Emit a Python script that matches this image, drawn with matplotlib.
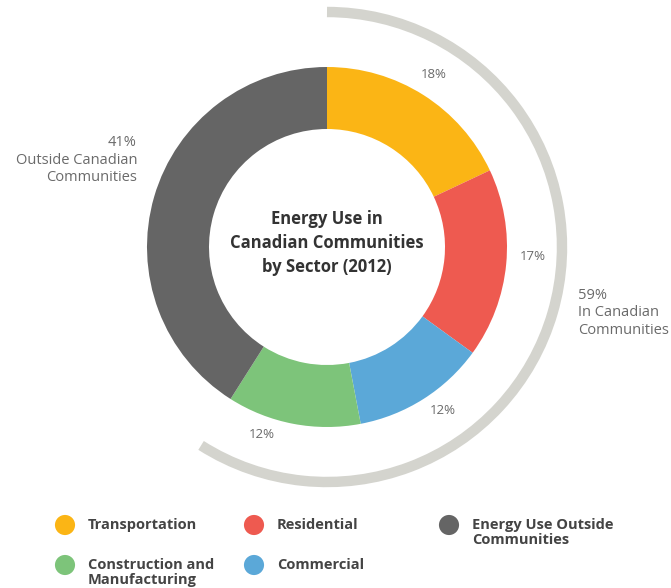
import matplotlib.pyplot as plt
from matplotlib.patches import Arc

plt.rcParams['font.family'] = ['Open Sans', 'DejaVu Sans']

sectors = ["Transportation", "Residential", "Commercial", "Construction and\nManufacturing", "Energy Use Outside\nCommunities"]
shares = [18, 17, 12, 12, 41]
colors = ["#FBB515", "#EE5A50", "#5BA8D8", "#7DC47A", "#656565"]
pct_labels = ["18%", "17%", "12%", "12%", ""]
inside_share = 59

W, H = 671, 588
fig = plt.figure(figsize=(W / 100, H / 100), dpi=100)
ax = fig.add_axes([0, 0, 1, 1])

cx, cy = 327, H - 247
R = 180
ax.pie(shares, colors=colors, startangle=90, counterclock=False, radius=R,
       center=(cx, cy), wedgeprops=dict(width=62, edgecolor="none"))

# outer arc for the in-community share
arc_r = 235
ax.add_patch(Arc((cx, cy), 2 * arc_r, 2 * arc_r, theta1=90 - inside_share * 3.6, theta2=90,
                 color="#D4D4CE", lw=7.5, capstyle="butt"))

txt = "#6a6a6a"
# percentage labels (pixel positions)
pos = [(434, 75), (533, 257), (443, 411), (262, 435)]
for (x, y), lab in zip(pos, pct_labels[:4]):
    ax.text(x, H - y, lab, ha="center", va="center", fontsize=9.5, color=txt)

ax.text(137, H - 160, "41%\nOutside Canadian\nCommunities", ha="right", va="center",
        fontsize=10.5, color=txt, linespacing=1.2)
ax.text(578, H - 313, f"{inside_share}%\nIn Canadian\nCommunities", ha="left", va="center",
        fontsize=10.5, color=txt, linespacing=1.2)

ax.text(cx, cy + 4, "Energy Use in\nCanadian Communities\nby Sector (2012)", ha="center", va="center",
        fontsize=12, fontweight="bold", color="#333333", linespacing=1.45)

# legend
leg_pos = [(65, 525), (254, 525), (65, 565), (254, 565), (449, 525)]
order = [0, 1, 3, 2, 4]
for (x, y), i in zip(leg_pos, order):
    ax.scatter([x], [H - y], s=210, color=colors[i], edgecolor="none")
    ax.text(x + 23, H - y + 7, sectors[i], ha="left", va="top", fontsize=10.5,
            fontweight="bold", color="#444444", linespacing=1.05)

ax.set_xlim(0, W)
ax.set_ylim(0, H)
ax.set_aspect("equal")
ax.axis("off")

plt.savefig("out.png", dpi=100, facecolor="white")
plt.close()
